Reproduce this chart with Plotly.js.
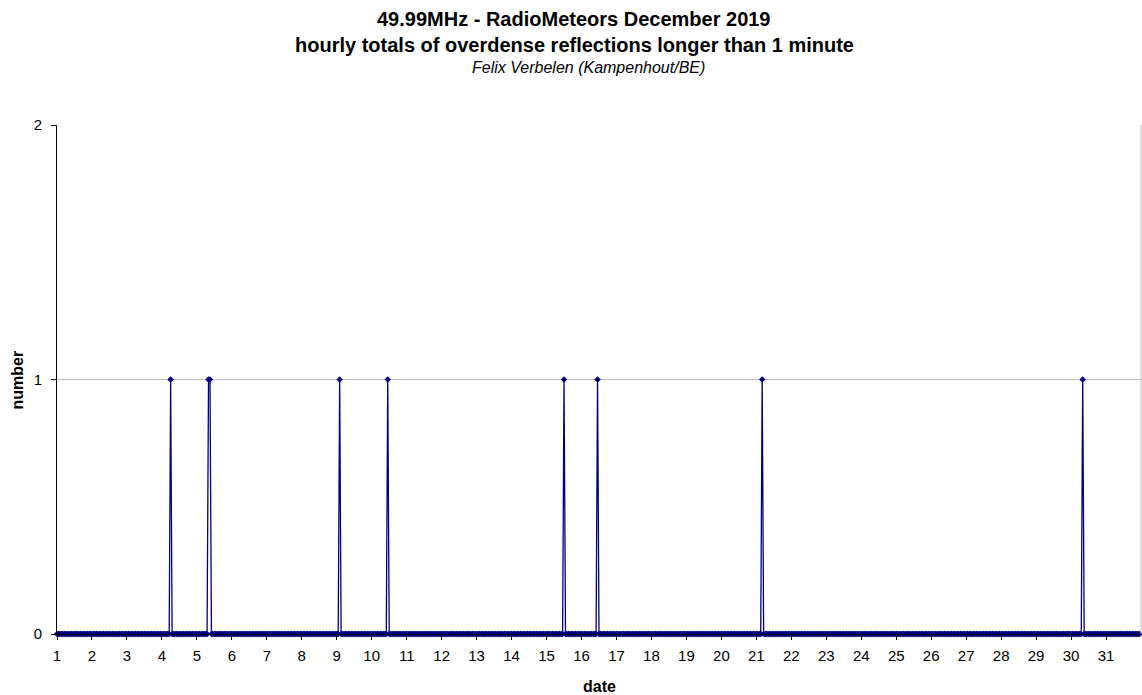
<!DOCTYPE html>
<html>
<head>
<meta charset="utf-8">
<script src="https://cdn.plot.ly/plotly-3.0.1.min.js"></script>
<style>html,body{margin:0;padding:0;background:#fff;}#chart{width:1142px;height:695px;}</style>
</head>
<body>
<div id="chart"></div>
<script>
// Hourly index (0 = 1 December 00h) of the hours with a non-zero count, and their counts
var spikeHours  = [78, 104, 105, 194, 227, 348, 371, 484, 704];
var spikeCounts = [1,  1,   1,   1,   1,   1,   1,   1,   1];
var dayLabels = [];
for (var d = 1; d <= 31; d++) dayLabels.push(String(d));
var yTicks = [0, 1, 2];

var hours = [], counts = [];
for (var h = 0; h < 744; h++) { hours.push(h); counts.push(0); }
spikeHours.forEach(function (hh, i) { counts[hh] = spikeCounts[i]; });

var tickPos = dayLabels.map(function (_, i) { return i * 24; });

var trace = {
  x: hours, y: counts, type: 'scatter', mode: 'lines+markers',
  line: {color: '#000080', width: 1.3},
  marker: {symbol: 'diamond', size: 5, color: '#000080'},
  cliponaxis: false, hoverinfo: 'skip'
};

var font = 'Liberation Sans, Arial, sans-serif';
var layout = {
  width: 1142, height: 695,
  margin: {l: 57, r: 1, t: 125, b: 61},
  paper_bgcolor: '#fff', plot_bgcolor: '#fff',
  showlegend: false,
  font: {family: font, size: 15, color: '#000'},
  xaxis: {
    range: [0, 744], tickmode: 'array', tickvals: tickPos, ticktext: dayLabels,
    showline: true, linecolor: '#000', linewidth: 1, ticks: 'outside', ticklen: 5,
    tickcolor: '#000', showgrid: false, zeroline: false, ticklabelstandoff: 3,
    tickfont: {family: font, size: 15, color: '#000'}
  },
  yaxis: {
    range: [0, 2], tickmode: 'array', tickvals: yTicks, ticktext: yTicks.map(String),
    showline: true, linecolor: '#000', linewidth: 1, ticks: 'outside', ticklen: 5,
    tickcolor: '#000', showgrid: true, gridcolor: '#c0c0c0', gridwidth: 1, zeroline: false,
    ticklabelstandoff: 6,
    tickfont: {family: font, size: 15, color: '#000'}
  },
  shapes: [{type: 'line', xref: 'paper', yref: 'paper', x0: 1, x1: 1, y0: 0, y1: 1,
            line: {color: '#c0c0c0', width: 1}}],
  annotations: [
    {text: '<b>49.99MHz - RadioMeteors December 2019</b>', xref: 'paper', yref: 'paper',
     x: 0.477, y: 1.2083, xanchor: 'center', yanchor: 'middle', showarrow: false,
     font: {family: font, size: 20, color: '#000'}},
    {text: '<b>hourly totals of overdense reflections longer than 1 minute</b>', xref: 'paper', yref: 'paper',
     x: 0.477, y: 1.1572, xanchor: 'center', yanchor: 'middle', showarrow: false,
     font: {family: font, size: 20, color: '#000'}},
    {text: '<i>Felix Verbelen (Kampenhout/BE)</i>', xref: 'paper', yref: 'paper',
     x: 0.49, y: 1.1139, xanchor: 'center', yanchor: 'middle', showarrow: false,
     font: {family: font, size: 16, color: '#000'}},
    {text: '<b>date</b>', xref: 'paper', yref: 'paper',
     x: 0.5, y: -0.1022, xanchor: 'center', yanchor: 'middle', showarrow: false,
     font: {family: font, size: 16, color: '#000'}},
    {text: '<b>number</b>', xref: 'paper', yref: 'paper', textangle: -90,
     x: -0.036, y: 0.5, xanchor: 'center', yanchor: 'middle', showarrow: false,
     font: {family: font, size: 16, color: '#000'}}
  ]
};

Plotly.newPlot('chart', [trace], layout, {displayModeBar: false, staticPlot: true});
</script>
</body>
</html>
